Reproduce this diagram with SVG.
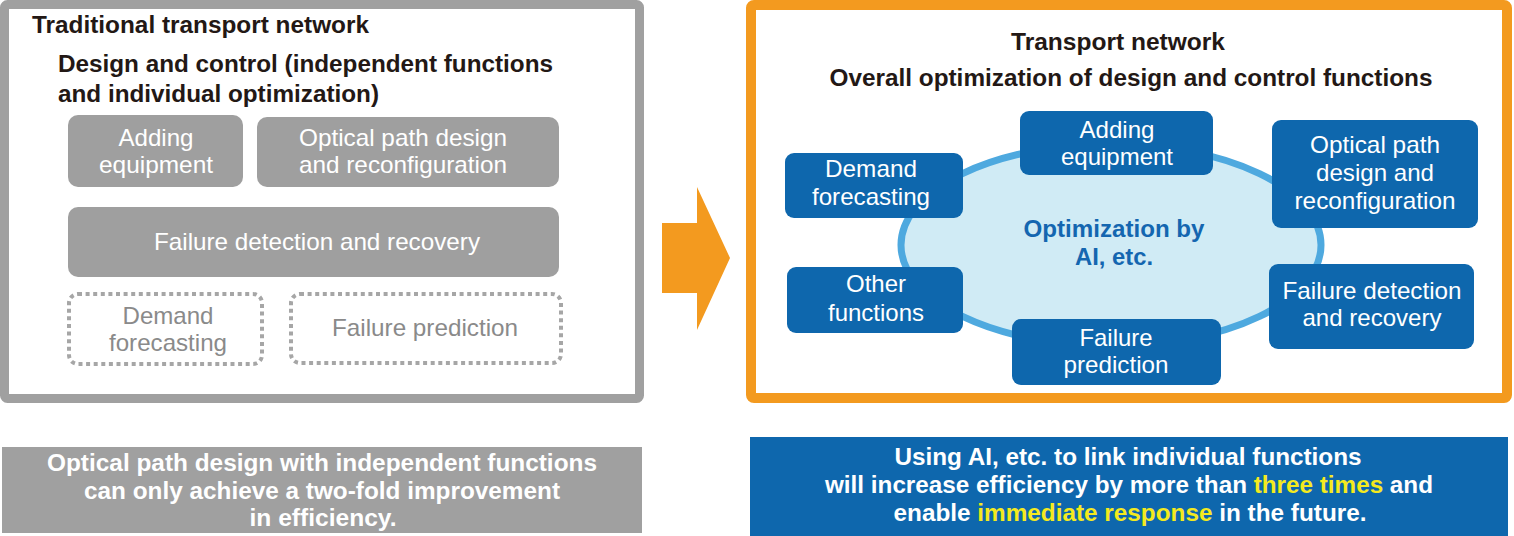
<svg xmlns="http://www.w3.org/2000/svg" width="1514" height="536" viewBox="0 0 1514 536">
<style>
text{font-family:"Liberation Sans",Arial,Helvetica,sans-serif}
.h{font-size:23px;font-weight:bold;fill:#231815}
.gb{fill:#9f9f9f}
.gt{font-size:24px;fill:#ffffff;text-anchor:middle}
.dt{font-size:24px;fill:#8a8a8a;text-anchor:middle}
.dot{fill:none;stroke:#a6a6a6;stroke-width:4;stroke-dasharray:4 3.6}
.bb{fill:#0e67ad}
.bt{font-size:24px;fill:#ffffff;text-anchor:middle}
.ct{font-size:24px;font-weight:bold;fill:#1466b0;text-anchor:middle}
.st{font-size:23px;font-weight:bold;fill:#ffffff;text-anchor:middle}
.y{fill:#f4ea1e}
</style>
<rect width="1514" height="536" fill="#ffffff"/>

<g id="left-frame">
<rect x="4.5" y="4.5" width="635" height="394" rx="3" fill="#ffffff" stroke="#a0a0a0" stroke-width="9"/>
<text class="h" x="32" y="33" textLength="337" lengthAdjust="spacingAndGlyphs">Traditional transport network</text>
<text class="h" x="58" y="72" textLength="495" lengthAdjust="spacingAndGlyphs">Design and control (independent functions</text>
<text class="h" x="58" y="102" textLength="321" lengthAdjust="spacingAndGlyphs">and individual optimization)</text>
</g>

<g id="l-adding">
<rect class="gb" x="68" y="115" width="175" height="72" rx="10"/>
<text class="gt" x="156" y="146" textLength="75" lengthAdjust="spacingAndGlyphs">Adding</text>
<text class="gt" x="156" y="173" textLength="114" lengthAdjust="spacingAndGlyphs">equipment</text>
</g>
<g id="l-optical">
<rect class="gb" x="257" y="117" width="302" height="70" rx="10"/>
<text class="gt" x="403" y="146" textLength="208" lengthAdjust="spacingAndGlyphs">Optical path design</text>
<text class="gt" x="403" y="173" textLength="208" lengthAdjust="spacingAndGlyphs">and reconfiguration</text>
</g>
<g id="l-failure-detection">
<rect class="gb" x="68" y="207" width="491" height="70" rx="10"/>
<text class="gt" x="317" y="250" textLength="326" lengthAdjust="spacingAndGlyphs">Failure detection and recovery</text>
</g>
<g id="l-demand">
<rect class="dot" x="69" y="294" width="193" height="70" rx="9"/>
<text class="dt" x="168" y="324" textLength="91" lengthAdjust="spacingAndGlyphs">Demand</text>
<text class="dt" x="168" y="351" textLength="118" lengthAdjust="spacingAndGlyphs">forecasting</text>
</g>
<g id="l-failure-prediction">
<rect class="dot" x="291" y="294" width="270" height="69" rx="9"/>
<text class="dt" x="425" y="336" textLength="186" lengthAdjust="spacingAndGlyphs">Failure prediction</text>
</g>

<g id="connectors">
<polygon points="662,223 697,223 697,187 730,258 697,330 697,293 662,293" fill="#f39a1f"/>
</g>

<g id="right-frame">
<rect x="751" y="5" width="756" height="393" rx="3" fill="#ffffff" stroke="#f39a1f" stroke-width="10"/>
<text class="h" x="1118" y="50" text-anchor="middle" textLength="214" lengthAdjust="spacingAndGlyphs">Transport network</text>
<text class="h" x="1131" y="86" text-anchor="middle" textLength="603" lengthAdjust="spacingAndGlyphs">Overall optimization of design and control functions</text>
</g>

<g id="ai-core">
<ellipse cx="1111" cy="245" rx="210" ry="101" fill="#d0ebf5" stroke="#4ea9df" stroke-width="7"/>
<text class="ct" x="1114" y="237" textLength="181" lengthAdjust="spacingAndGlyphs">Optimization by</text>
<text class="ct" x="1114" y="265" textLength="78" lengthAdjust="spacingAndGlyphs">AI, etc.</text>
</g>

<g id="r-adding">
<rect class="bb" x="1020" y="111" width="193" height="64" rx="9"/>
<text class="bt" x="1117" y="138" textLength="75" lengthAdjust="spacingAndGlyphs">Adding</text>
<text class="bt" x="1117" y="165" textLength="112" lengthAdjust="spacingAndGlyphs">equipment</text>
</g>
<g id="r-demand">
<rect class="bb" x="785" y="153" width="178" height="65" rx="9"/>
<text class="bt" x="871" y="177" textLength="92" lengthAdjust="spacingAndGlyphs">Demand</text>
<text class="bt" x="871" y="205" textLength="118" lengthAdjust="spacingAndGlyphs">forecasting</text>
</g>
<g id="r-optical">
<rect class="bb" x="1272" y="120" width="206" height="108" rx="9"/>
<text class="bt" x="1375" y="153" textLength="130" lengthAdjust="spacingAndGlyphs">Optical path</text>
<text class="bt" x="1375" y="181" textLength="118" lengthAdjust="spacingAndGlyphs">design and</text>
<text class="bt" x="1375" y="209" textLength="161" lengthAdjust="spacingAndGlyphs">reconfiguration</text>
</g>
<g id="r-other">
<rect class="bb" x="787" y="267" width="176" height="66" rx="9"/>
<text class="bt" x="876" y="292" textLength="60" lengthAdjust="spacingAndGlyphs">Other</text>
<text class="bt" x="876" y="321" textLength="96" lengthAdjust="spacingAndGlyphs">functions</text>
</g>
<g id="r-failure-detection">
<rect class="bb" x="1269" y="264" width="205" height="85" rx="9"/>
<text class="bt" x="1372" y="299" textLength="179" lengthAdjust="spacingAndGlyphs">Failure detection</text>
<text class="bt" x="1372" y="326" textLength="139" lengthAdjust="spacingAndGlyphs">and recovery</text>
</g>
<g id="r-failure-prediction">
<rect class="bb" x="1012" y="319" width="209" height="66" rx="9"/>
<text class="bt" x="1116" y="346" textLength="73" lengthAdjust="spacingAndGlyphs">Failure</text>
<text class="bt" x="1116" y="373" textLength="105" lengthAdjust="spacingAndGlyphs">prediction</text>
</g>

<g id="summary-left">
<rect x="2" y="447" width="640" height="86" fill="#a0a0a0"/>
<text class="st" x="322" y="471" textLength="550" lengthAdjust="spacingAndGlyphs">Optical path design with independent functions</text>
<text class="st" x="322" y="499" textLength="476" lengthAdjust="spacingAndGlyphs">can only achieve a two-fold improvement</text>
<text class="st" x="323" y="526" textLength="147" lengthAdjust="spacingAndGlyphs">in efficiency.</text>
</g>

<g id="summary-right">
<rect x="750" y="437" width="758" height="99" fill="#0e67ad"/>
<text class="st" x="1128" y="465" textLength="467" lengthAdjust="spacingAndGlyphs">Using AI, etc. to link individual functions</text>
<text class="st" x="1129" y="493" textLength="608" lengthAdjust="spacingAndGlyphs">will increase efficiency by more than <tspan class="y">three times</tspan> and</text>
<text class="st" x="1130" y="521" textLength="473" lengthAdjust="spacingAndGlyphs">enable <tspan class="y">immediate response</tspan> in the future.</text>
</g>
</svg>
